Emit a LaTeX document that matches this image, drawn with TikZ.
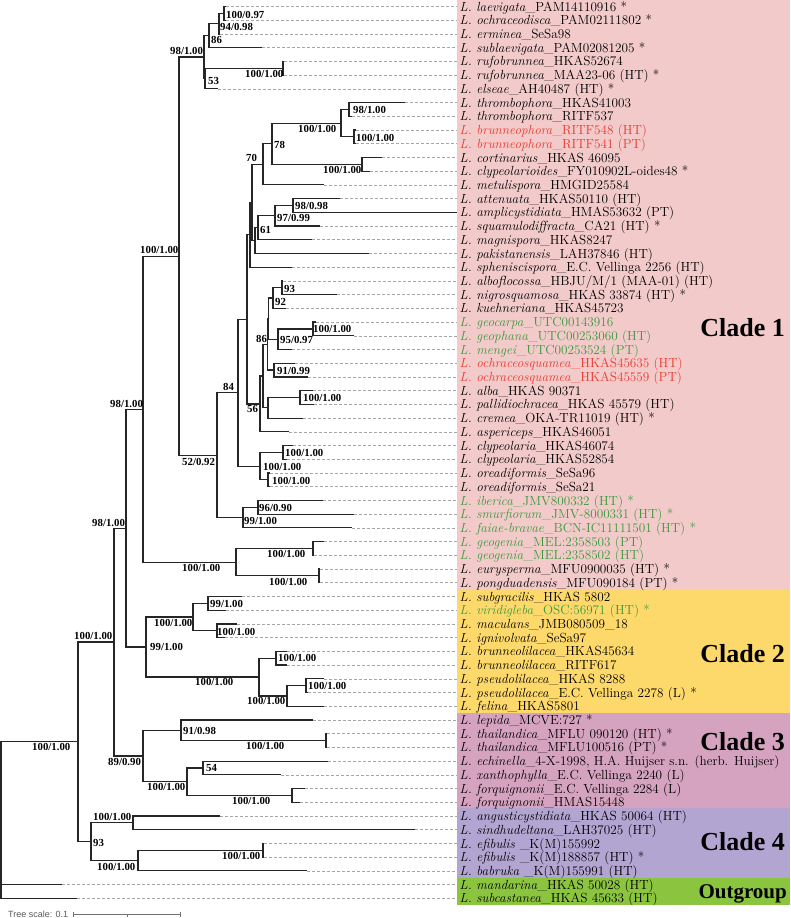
\documentclass[tikz,border=0pt]{standalone}
\usepackage{fontspec}
\newfontfamily\timesfont{Liberation Serif}
\newfontfamily\arialfont{Liberation Sans}
\usetikzlibrary{calc}

\definecolor{cladeone}{HTML}{F2CACA}
\definecolor{cladetwo}{HTML}{FDD86A}
\definecolor{cladethree}{HTML}{D5A3C0}
\definecolor{cladefour}{HTML}{B2A5D2}
\definecolor{outgrp}{HTML}{8BC53F}
\definecolor{redsp}{HTML}{E83A2E}
\definecolor{greensp}{HTML}{3C9A3C}

\tikzset{
  branch/.style={draw=black!85, line width=1.2pt},
  tipline/.style={draw=black!35, dash pattern=on 2.5pt off 2.5pt, line width=0.5pt},
  taxlab/.style={anchor=west, inner xsep=2.5pt, inner ysep=0pt, text height=10.2pt, text depth=1pt, font=\fontsize{13.2}{14}\selectfont},
  bs/.style={anchor=west, inner sep=0pt, text height=7pt, text depth=0pt, font=\timesfont\bfseries\fontsize{10.8}{11}\selectfont},
  cladelab/.style={anchor=base east, inner sep=0pt, font=\timesfont\bfseries\fontsize{26}{28}\selectfont},
}

% [colour]{name}{row}{tip x}{species}{voucher}
\newcommand{\taxon}[6][black]{%
  \coordinate (#2) at (#4,{6.5+13.72*(#3-1)});
  \node[taxlab,text=#1] (#2l) at (457,{6.5+13.72*(#3-1)}) {\textit{L. #5}\_#6};
  \draw[tipline] (#2) -- (#2l.west);
}
% {name}{x}{upper child}{lower child}
\newcommand{\clade}[4]{%
  \path let \p1=($(#3)!.5!(#4)$), \p2=(#2,0) in (\x2,\y1) coordinate (#1);
  \draw[branch] (#3) -| (#1) |- (#4);
}

\begin{document}
\begin{tikzpicture}[x=1pt,y=-1pt]
\useasboundingbox (0,0) rectangle (790,918);

\fill[cladeone] (457,0) rectangle (790,590);
\fill[cladetwo] (457,590) rectangle (790,713);
\fill[cladethree] (457,713) rectangle (790,808);
\fill[cladefour] (457,808) rectangle (790,878);
\fill[outgrp] (457,878) rectangle (790,905);

\node[cladelab] (cl1) at (785,336) {Clade 1};
\node[cladelab] (cl2) at (785,662) {Clade 2};
\node[cladelab] (cl3) at (785,750) {Clade 3};
\node[cladelab] (cl4) at (785,850) {Clade 4};
\node[cladelab,font=\timesfont\bfseries\fontsize{21}{23}\selectfont] (clo) at (787,898) {Outgroup};

\taxon{laev}{1}{226}{laevigata}{PAM14110916 *}
\taxon{ochr}{2}{226}{ochraceodisca}{PAM02111802 *}
\taxon{ermi}{3}{220}{erminea}{SeSa98}
\taxon{subl}{4}{262}{sublaevigata}{PAM02081205 *}
\taxon{ruf1}{5}{284}{rufobrunnea}{HKAS52674}
\taxon{ruf2}{6}{284}{rufobrunnea}{MAA23-06 (HT) *}
\taxon{elsa}{7}{218}{elseae}{AH40487 (HT) *}
\taxon{thr1}{8}{405}{thrombophora}{HKAS41003}
\taxon{thr2}{9}{352}{thrombophora}{RITF537}
\taxon[redsp]{bru1}{10}{356}{brunneophora}{RITF548 (HT)}
\taxon[redsp]{bru2}{11}{356}{brunneophora}{RITF541 (PT)}
\taxon{cort}{12}{382}{cortinarius}{HKAS 46095}
\taxon{clyp}{13}{370}{clypeolarioides}{FY010902L-oides48 *}
\taxon{metu}{14}{324}{metulispora}{HMGID25584}
\taxon{atte}{15}{340}{attenuata}{HKAS50110 (HT)}
\taxon{ampl}{16}{457}{amplicystidiata}{HMAS53632 (PT)}
\taxon{squa}{17}{320}{squamulodiffracta}{CA21 (HT) *}
\taxon{magn}{18}{312}{magnispora}{HKAS8247}
\taxon{paki}{19}{369}{pakistanensis}{LAH37846 (HT)}
\taxon{sphe}{20}{292}{spheniscispora}{E.C. Vellinga 2256 (HT)}
\taxon{albo}{21}{283}{alboflocossa}{HBJU/M/1 (MAA-01) (HT)}
\taxon{nigr}{22}{337}{nigrosquamosa}{HKAS 33874 (HT) *}
\taxon{kueh}{23}{286}{kuehneriana}{HKAS45723}
\taxon[greensp]{geoc}{24}{316}{geocarpa}{UTC00143916}
\taxon[greensp]{geop}{25}{354}{geophana}{UTC00253060 (HT)}
\taxon[greensp]{meng}{26}{292}{mengei}{UTC00253524 (PT)}
\taxon[redsp]{och1}{27}{295}{ochraceosquamea}{HKAS45635 (HT)}
\taxon[redsp]{och2}{28}{308}{ochraceosquamea}{HKAS45559 (PT)}
\taxon{alba}{29}{313}{alba}{HKAS 90371}
\taxon{pall}{30}{314}{pallidiochracea}{HKAS 45579 (HT)}
\taxon{crem}{31}{303}{cremea}{OKA-TR11019 (HT) *}
\taxon{aspe}{32}{289}{aspericeps}{HKAS46051}
\taxon{cly1}{33}{293}{clypeolaria}{HKAS46074}
\taxon{cly2}{34}{287}{clypeolaria}{HKAS52854}
\taxon{ore1}{35}{270}{oreadiformis}{SeSa96}
\taxon{ore2}{36}{270}{oreadiformis}{SeSa21}
\taxon[greensp]{iber}{37}{323}{iberica}{JMV800332 (HT) *}
\taxon[greensp]{smur}{38}{354}{smurfiorum}{JMV-8000331 (HT) *}
\taxon[greensp]{faia}{39}{352}{faiae-bravae}{BCN-IC11111501 (HT) *}
\taxon[greensp]{geo1}{40}{324}{geogenia}{MEL:2358503 (PT)}
\taxon[greensp]{geo2}{41}{314}{geogenia}{MEL:2358502 (HT)}
\taxon{eury}{42}{320}{eurysperma}{MFU0900035 (HT) *}
\taxon{pong}{43}{320}{pongduadensis}{MFU090184 (PT) *}
\taxon{subg}{44}{242}{subgracilis}{HKAS 5802}
\taxon[greensp]{viri}{45}{226}{viridigleba}{OSC:56971 (HT) *}
\taxon{macu}{46}{237}{maculans}{JMB080509\_18}
\taxon{igni}{47}{225}{ignivolvata}{SeSa97}
\taxon{bli1}{48}{287}{brunneolilacea}{HKAS45634}
\taxon{bli2}{49}{287}{brunneolilacea}{RITF617}
\taxon{pse1}{50}{324}{pseudolilacea}{HKAS 8288}
\taxon{pse2}{51}{308}{pseudolilacea}{E.C. Vellinga 2278 (L) *}
\taxon{feli}{52}{324}{felina}{HKAS5801}
\taxon{lepi}{53}{313}{lepida}{MCVE:727 *}
\taxon{tha1}{54}{327}{thailandica}{MFLU 090120 (HT) *}
\taxon{tha2}{55}{327}{thailandica}{MFLU100516 (PT) *}
\taxon{echi}{56}{328}{echinella}{4-X-1998, H.A. Huijser s.n. (herb. Huijser)}
\taxon{xant}{57}{281}{xanthophylla}{E.C. Vellinga 2240 (L)}
\taxon{for1}{58}{305}{forquignonii}{E.C. Vellinga 2284 (L)}
\taxon{for2}{59}{300}{forquignonii}{HMAS15448}
\taxon{angu}{60}{220}{angusticystidiata}{HKAS 50064 (HT)}
\taxon{sind}{61}{415}{sindhudeltana}{LAH37025 (HT)}
\taxon{efi1}{62}{264}{efibulis\ }{K(M)155992}
\taxon{efi2}{63}{264}{efibulis\ }{K(M)188857 (HT) *}
\taxon{babr}{64}{307}{babruka\ }{K(M)155991 (HT)}
\taxon{mand}{65}{62}{mandarina}{HKAS 50028 (HT)}
\taxon{subc}{66}{77}{subcastanea}{HKAS 45633 (HT)}

\clade{nA}{224}{laev}{ochr}
\clade{nB}{219}{nA}{ermi}
\clade{nC}{209}{nB}{subl}
\clade{nRuf}{283}{ruf1}{ruf2}
\clade{nE}{205}{nRuf}{elsa}
\clade{nD}{204}{nC}{nE}
\clade{nThr}{349}{thr1}{thr2}
\clade{nBru}{354}{bru1}{bru2}
\clade{nK}{341}{nThr}{nBru}
\clade{nM}{362}{cort}{clyp}
\clade{nL}{272}{nK}{nM}
\clade{nN}{263}{nL}{metu}
\clade{nP}{293}{atte}{ampl}
\clade{nQ}{275}{nP}{squa}
\clade{nR}{258}{nQ}{magn}
\clade{nS}{255}{nR}{paki}
\clade{nO}{252}{nN}{nS}
\clade{nT}{250}{nO}{sphe}
\clade{nW}{282}{albo}{nigr}
\clade{nKu}{273}{nW}{kueh}
\clade{nGc}{313}{geoc}{geop}
\clade{nMe}{278}{nGc}{meng}
\clade{nU}{268.8}{nKu}{nMe}
\clade{nOc}{274}{och1}{och2}
\clade{nV}{267.5}{nU}{nOc}
\clade{nAl}{300}{alba}{pall}
\clade{nZ}{268}{nAl}{crem}
\clade{nY}{263}{nV}{nZ}
\clade{nX}{260}{nY}{aspe}
\clade{nJ}{247}{nT}{nX}
\clade{nCy}{283}{cly1}{cly2}
\clade{nOr}{268}{ore1}{ore2}
\clade{nCL}{260}{nCy}{nOr}
\clade{nI}{238}{nJ}{nCL}
\clade{nIb}{258}{iber}{smur}
\clade{nFa}{243}{nIb}{faia}
\clade{nG}{217}{nI}{nFa}
\clade{nF}{179}{nD}{nG}
\clade{nGg}{313}{geo1}{geo2}
\clade{nEu}{319}{eury}{pong}
\clade{nGE}{236}{nGg}{nEu}
\clade{nH}{143}{nF}{nGE}
\clade{nSu}{208}{subg}{viri}
\clade{nMa}{217}{macu}{igni}
\clade{nC2a}{193}{nSu}{nMa}
\clade{nBl}{276}{bli1}{bli2}
\clade{nPs}{306}{pse1}{pse2}
\clade{nPF}{287}{nPs}{feli}
\clade{nC2b}{259}{nBl}{nPF}
\clade{nC2}{146}{nC2a}{nC2b}
\clade{nH2}{126}{nH}{nC2}
\clade{nTh}{326}{tha1}{tha2}
\clade{nLe}{181}{lepi}{nTh}
\clade{nEc}{203}{echi}{xant}
\clade{nFo}{292}{for1}{for2}
\clade{nEF}{187}{nEc}{nFo}
\clade{nC3}{143}{nLe}{nEF}
\clade{nA2}{114}{nH2}{nC3}
\clade{nAn}{133}{angu}{sind}
\clade{nEfi}{263}{efi1}{efi2}
\clade{nBa}{138}{nEfi}{babr}
\clade{nC4}{91}{nAn}{nBa}
\clade{nIn}{78}{nA2}{nC4}
\clade{root}{1}{nIn}{subc}
\draw[branch] (root |- mand) -- (mand);

\node[bs] (b1) at (226,15) {100/0.97};
\node[bs] (b2) at (220,27) {94/0.98};
\node[bs] (b3) at (211,40) {86};
\node[bs] (b4) at (170,51) {98/1.00};
\node[bs] (b5) at (245,74) {100/1.00};
\node[bs] (b6) at (208,81) {53};
\node[bs] (b7) at (353,110) {98/1.00};
\node[bs] (b8) at (298,129) {100/1.00};
\node[bs] (b9) at (356,138) {100/1.00};
\node[bs] (b10) at (274,145) {78};
\node[bs] (b11) at (246,158) {70};
\node[bs] (b12) at (323,170) {100/1.00};
\node[bs] (b13) at (295,206) {98/0.98};
\node[bs] (b14) at (277,218) {97/0.99};
\node[bs] (b15) at (260,230) {61};
\node[bs] (b16) at (140,250) {100/1.00};
\node[bs] (b17) at (284,289) {93};
\node[bs] (b18) at (275,302) {92};
\node[bs] (b19) at (313,329) {100/1.00};
\node[bs] (b20) at (256,339) {86};
\node[bs] (b21) at (280,340) {95/0.97};
\node[bs] (b22) at (277,371) {91/0.99};
\node[bs] (b23) at (223,387) {84};
\node[bs] (b24) at (303,398) {100/1.00};
\node[bs] (b25) at (110,404) {98/1.00};
\node[bs] (b26) at (247,409) {56};
\node[bs] (b27) at (285,453) {100/1.00};
\node[bs] (b28) at (182,462) {52/0.92};
\node[bs] (b29) at (263,467) {100/1.00};
\node[bs] (b30) at (272,481) {100/1.00};
\node[bs] (b31) at (259,508) {96/0.90};
\node[bs] (b32) at (244,521) {99/1.00};
\node[bs] (b33) at (92,523) {98/1.00};
\node[bs] (b34) at (267,554) {100/1.00};
\node[bs] (b35) at (182,568) {100/1.00};
\node[bs] (b36) at (269,582) {100/1.00};
\node[bs] (b37) at (210,604) {99/1.00};
\node[bs] (b38) at (154,623) {100/1.00};
\node[bs] (b39) at (217,632) {100/1.00};
\node[bs] (b40) at (74,636) {100/1.00};
\node[bs] (b41) at (150,647) {99/1.00};
\node[bs] (b42) at (278,658) {100/1.00};
\node[bs] (b43) at (195,682) {100/1.00};
\node[bs] (b44) at (308,686) {100/1.00};
\node[bs] (b45) at (247,701) {100/1.00};
\node[bs] (b46) at (183,731) {91/0.98};
\node[bs] (b47) at (246,746) {100/1.00};
\node[bs] (b48) at (32,747) {100/1.00};
\node[bs] (b49) at (108,762) {89/0.90};
\node[bs] (b50) at (206,768) {54};
\node[bs] (b51) at (147,787) {100/1.00};
\node[bs] (b52) at (232,801) {100/1.00};
\node[bs] (b53) at (93,817) {100/1.00};
\node[bs] (b54) at (93,843) {93};
\node[bs] (b55) at (222,856) {100/1.00};
\node[bs] (b56) at (97,867) {100/1.00};

\node[anchor=west, inner sep=0pt, text=black!65, font=\arialfont\fontsize{9}{9}\selectfont] (tsc) at (8,914) {Tree scale: 0.1};
\coordinate (sbl) at (73,914);
\coordinate (sbm) at (127,914);
\coordinate (sbr) at (180,914);
\draw[black!55, line width=0.6pt] (sbl) -- (sbr);
\draw[black!55, line width=0.6pt] ([yshift=2.5pt]sbl) -- ([yshift=-2.5pt]sbl) ([yshift=2.5pt]sbr) -- ([yshift=-2.5pt]sbr) (sbm) -- ([yshift=-2.5pt]sbm);

\end{tikzpicture}
\end{document}
